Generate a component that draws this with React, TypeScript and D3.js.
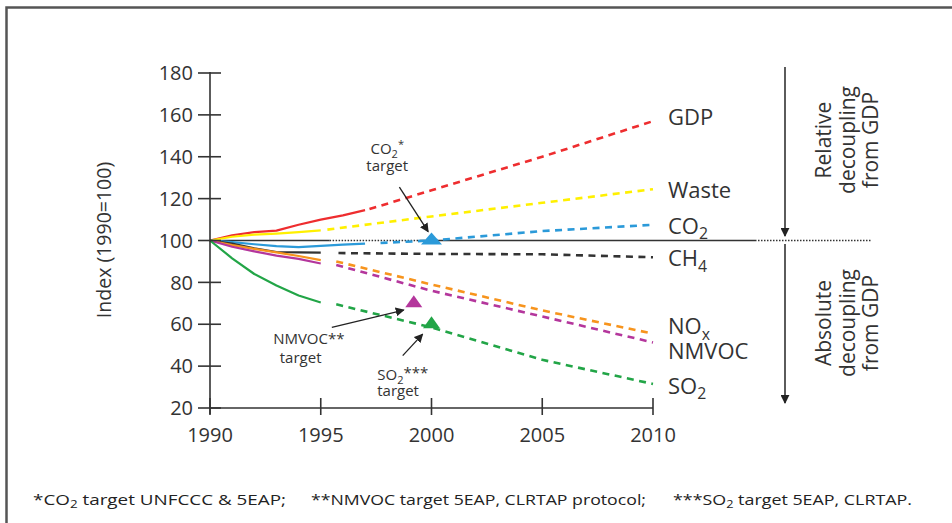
import * as d3 from 'd3'

// observed (solid) and projected (dashed) index values, 1990 = 100
const gdpObs = [[1990, 100], [1991, 102.5], [1992, 104], [1993, 104.7], [1994, 107.5], [1995, 110], [1996, 112], [1997, 114.5]]
const gdpProj = [[1997.2, 115], [2000, 124], [2005, 140], [2010, 157]]
const wasteObs = [[1990, 100], [1991, 101.8], [1992, 102.8], [1993, 103.3], [1994, 104], [1995, 104.8]]
const wasteProj = [[1995.3, 105.2], [2000, 111.5], [2005, 118], [2010, 124.5]]
const co2Obs = [[1990, 100], [1991, 99.2], [1992, 98.2], [1993, 97.3], [1994, 96.8], [1995, 97.4], [1996, 98], [1997, 98.5]]
const co2Proj = [[1997.7, 98.8], [2000, 100], [2005, 104.5], [2010, 107.5]]
const ch4Obs = [[1990, 100], [1991, 98.5], [1992, 96.3], [1993, 94.5], [1994, 94.3], [1995, 94.2]]
const ch4Proj = [[1995.8, 94], [2000, 93.6], [2005, 93.4], [2010, 92]]
const noxObs = [[1990, 100], [1991, 97.8], [1992, 96], [1993, 94.3], [1994, 92.6], [1995, 90.6]]
const noxProj = [[1995.7, 90], [2000, 79], [2005, 66.6], [2010, 55.5]]
const nmvocObs = [[1990, 100], [1991, 97], [1992, 94.8], [1993, 92.8], [1994, 91.2], [1995, 89]]
const nmvocProj = [[1995.7, 88.3], [2000, 76], [2005, 63.7], [2010, 51.3]]
const so2Obs = [[1990, 100], [1991, 91.5], [1992, 84], [1993, 78.5], [1994, 73.7], [1995, 70.4]]
const so2Proj = [[1995.7, 69.5], [2000, 58.5], [2005, 43], [2010, 31.5]]

const seriesNames = ['GDP', 'Waste', 'CO2', 'CH4', 'NOx', 'NMVOC', 'SO2']
const seriesColors = ['#ee2d2f', '#fff000', '#2b9ad9', '#333333', '#f7941d', '#b4369c', '#22a547']
const observed = [gdpObs, wasteObs, co2Obs, ch4Obs, noxObs, nmvocObs, so2Obs]
const projected = [gdpProj, wasteProj, co2Proj, ch4Proj, noxProj, nmvocProj, so2Proj]
// value at which each end label sits (baseline)
const labelValues = [155.4, 120.5, 103.3, 87.6, 55.3, 43.6, 26.9]

// targets: [year, value]
const targets = [
  { name: 'CO2', at: [2000, 100], color: '#2b9ad9' },
  { name: 'NMVOC', at: [1999.2, 70], color: '#b4369c' },
  { name: 'SO2', at: [2000, 60], color: '#22a547' },
]
// annotation arrows: from [year, value] to [year, value]
const arrows = [
  [[1998.55, 125.5], [1999.85, 104.2]],
  [[1995.5, 58.5], [1998.75, 66.8]],
  [[1998.7, 45], [1999.6, 55.3]],
]

const yTicks = [20, 40, 60, 80, 100, 120, 140, 160, 180]
const xTicks = [1990, 1995, 2000, 2005, 2010]

const W = 952
const H = 523
const FONT = '"Open Sans", "Noto Sans", sans-serif'
const INK = '#333'

const subs: Record<string, [string, string]> = {
  CO2: ['CO', '2'],
  CH4: ['CH', '4'],
  NOx: ['NO', 'x'],
  SO2: ['SO', '2'],
}

function labelNode(name: string, size: number) {
  const s = subs[name]
  if (!s) return name
  return (
    <>
      {s[0]}
      <tspan dy={size * 0.25} fontSize={size * 0.72}>{s[1]}</tspan>
    </>
  )
}

export default function App() {
  const x = d3.scaleLinear().domain([1990, 2010]).range([210, 653])
  const y = d3.scaleLinear().domain([20, 180]).range([408, 73])
  const line = d3.line<number[]>().x(d => x(d[0])).y(d => y(d[1]))

  const y100 = y(100)
  const triPath = (w: number, up: number, down: number) => `M${-w / 2},${down}L${w / 2},${down}L0,${-up}Z`

  return (
    <svg width={W} height={H} style={{ position: 'absolute', left: 0, top: 0, background: '#fff' }} fontFamily={FONT}>
      <defs>
        <marker id="ah" viewBox="0 0 10 10" refX="9" refY="5" markerWidth="9" markerHeight="9" markerUnits="userSpaceOnUse" orient="auto">
          <path d="M0,0L10,5L0,10Z" fill="#222" />
        </marker>
      </defs>

      {/* frame */}
      <path d={`M6.5,${H}V7.5H${W}`} fill="none" stroke="#555" strokeWidth={2.5} />

      {/* index = 100 reference */}
      <line x1={x(1990)} x2={x(1995.4)} y1={y100} y2={y100} stroke={INK} strokeWidth={1.5} />
      <line x1={x(1995.4)} x2={x(1999.5)} y1={y100} y2={y100} stroke={INK} strokeWidth={1.5} strokeDasharray="1.5 1.5" />
      <line x1={x(1999.5)} x2={755} y1={y100} y2={y100} stroke={INK} strokeWidth={1.5} />
      <line x1={755} x2={872} y1={y100} y2={y100} stroke={INK} strokeWidth={1.3} strokeDasharray="1.5 1.5" />

      {/* series */}
      {observed.map((d, i) => (
        <path key={'o' + i} d={line(d) ?? ''} fill="none" stroke={seriesColors[i]} strokeWidth={2.2} strokeLinejoin="round" />
      ))}
      {projected.map((d, i) => (
        <path key={'p' + i} d={line(d) ?? ''} fill="none" stroke={seriesColors[i]} strokeWidth={2.6} strokeDasharray="7 5.5" />
      ))}

      {/* axes */}
      <line x1={210} x2={210} y1={72} y2={414} stroke={INK} strokeWidth={1.6} />
      <line x1={210} x2={x(2010)} y1={y(20)} y2={y(20)} stroke={INK} strokeWidth={1.6} />
      {yTicks.map(t => (
        <g key={t}>
          <line x1={198} x2={221} y1={y(t)} y2={y(t)} stroke={INK} strokeWidth={1.6} />
          <text x={193} y={y(t)} dy="0.36em" textAnchor="end" fontSize={20} fill={INK}>{t}</text>
        </g>
      ))}
      {xTicks.map(t => (
        <g key={t}>
          <line x1={x(t)} x2={x(t)} y1={398} y2={415} stroke={INK} strokeWidth={1.6} />
          <text x={x(t)} y={442} textAnchor="middle" fontSize={20} fill={INK}>{t}</text>
        </g>
      ))}
      <text transform={`translate(111,240) rotate(-90)`} textAnchor="middle" fontSize={19.5} fill={INK}>Index (1990=100)</text>

      {/* targets */}
      {targets.map(t => (
        <path key={t.name} transform={`translate(${x(t.at[0])},${y(t.at[1])})`} d={triPath(t.name === 'CO2' ? 21 : 17, 8, 4)} fill={t.color} />
      ))}
      {arrows.map((a, i) => (
        <line key={i} x1={x(a[0][0])} y1={y(a[0][1])} x2={x(a[1][0])} y2={y(a[1][1])} stroke="#222" strokeWidth={1.3} markerEnd="url(#ah)" />
      ))}

      {/* annotation text */}
      <text x={x(1998)} y={y(141.5)} textAnchor="middle" fontSize={15} fill={INK}>
        CO<tspan dy={4} fontSize={11}>2</tspan><tspan dy={-10} fontSize={11}>*</tspan>
      </text>
      <text x={x(1998)} y={y(133.2)} textAnchor="middle" fontSize={15} fill={INK}>target</text>
      <text x={x(1992.85)} y={y(50.8)} fontSize={15} fill={INK}>NMVOC**</text>
      <text x={x(1993.15)} y={y(41.7)} fontSize={15} fill={INK}>target</text>
      <text x={x(1997.55)} y={y(33.2)} fontSize={15} fill={INK}>
        SO<tspan dy={4} fontSize={11}>2</tspan><tspan dy={-6}>***</tspan>
      </text>
      <text x={x(1997.55)} y={y(25.8)} fontSize={15} fill={INK}>target</text>

      {/* end labels */}
      {seriesNames.map((n, i) => (
        <text key={n} x={x(2010) + 15} y={y(labelValues[i])} fontSize={22} fill={INK}>{labelNode(n, 22)}</text>
      ))}

      {/* decoupling arrows */}
      <line x1={785} x2={785} y1={67} y2={236} stroke={INK} strokeWidth={1.6} markerEnd="url(#ah)" />
      <line x1={785} x2={785} y1={244} y2={403} stroke={INK} strokeWidth={1.6} markerEnd="url(#ah)" />
      {[['Relative', 'decoupling', 'from GDP', 140], ['Absolute', 'decoupling', 'from GDP', 323]].map((g, gi) => (
        <text key={gi} transform={`translate(855,${g[3]}) rotate(-90)`} textAnchor="middle" fontSize={21} fill={INK}>
          <tspan x={0} y={-24}>{g[0]}</tspan>
          <tspan x={0} y={0}>{g[1]}</tspan>
          <tspan x={0} y={23}>{g[2]}</tspan>
        </text>
      ))}

      {/* footnote */}
      <text x={33} y={505} fontSize={14} fill="#222" textLength={253} lengthAdjust="spacingAndGlyphs">
        *CO<tspan dy={3} fontSize={10}>2</tspan><tspan dy={-3}> target UNFCCC &amp; 5EAP;</tspan>
      </text>
      <text x={311} y={505} fontSize={14} fill="#222" textLength={335} lengthAdjust="spacingAndGlyphs">
        **NMVOC target 5EAP, CLRTAP protocol;
      </text>
      <text x={673} y={505} fontSize={14} fill="#222" textLength={239} lengthAdjust="spacingAndGlyphs">
        ***SO<tspan dy={3} fontSize={10}>2</tspan><tspan dy={-3}> target 5EAP, CLRTAP.</tspan>
      </text>
    </svg>
  )
}
